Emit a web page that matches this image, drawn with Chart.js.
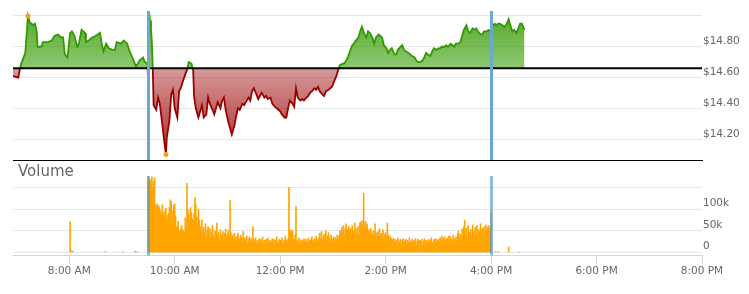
<!DOCTYPE html>
<html>
<head>
<meta charset="utf-8">
<script src="https://cdn.jsdelivr.net/npm/chart.js@4.4.1/dist/chart.umd.min.js"></script>
<style>
  html, body { margin: 0; padding: 0; background: #fff; }
  canvas { display: block; }
</style>
</head>
<body>
<canvas id="price" width="749" height="162"></canvas>
<canvas id="volume" width="749" height="132"></canvas>
<script>
"use strict";

// ---- data ----
const prevClose = 14.66;
const sessionOpen = "9:30";
const sessionClose = "16:00";
const axisStart = "6:56";
const axisEnd = "20:00";

const xTickTimes = ["8:00", "10:00", "12:00", "14:00", "16:00", "18:00", "20:00"];
const xTickLabels = ["8:00 AM", "10:00 AM", "12:00 PM", "2:00 PM", "4:00 PM", "6:00 PM", "8:00 PM"];
const priceTicks = [14.2, 14.4, 14.6, 14.8, 15.0];
const priceTickLabels = ["$14.20", "$14.40", "$14.60", "$14.80", ""];
const volumeTicks = [0, 50, 100, 150];
const volumeTickLabels = ["0", "50k", "100k", ""];

const priceTimes = [
  "6:56", "7:02", "7:04", "7:06", "7:10", "7:11", "7:13", "7:15", "7:19", "7:21",
  "7:23", "7:24", "7:28", "7:30", "7:36", "7:40", "7:43", "7:47", "7:51", "7:53",
  "7:55", "7:58", "8:01", "8:03", "8:06", "8:09", "8:11", "8:14", "8:18", "8:19",
  "8:22", "8:26", "8:30", "8:35", "8:37", "8:39", "8:42", "8:45", "8:49", "8:52",
  "8:54", "8:59", "9:02", "9:06", "9:08", "9:11", "9:14", "9:16", "9:18", "9:20",
  "9:24", "9:26", "9:29", "9:30", "9:31", "9:32", "9:33", "9:34", "9:35", "9:36",
  "9:39", "9:41", "9:43", "9:46", "9:48", "9:50", "9:51", "9:54", "9:56", "9:58",
  "10:00", "10:03", "10:05", "10:07", "10:09", "10:12", "10:14", "10:16", "10:19", "10:21",
  "10:22", "10:24", "10:27", "10:29", "10:31", "10:33", "10:36", "10:38", "10:40", "10:43",
  "10:45", "10:47", "10:49", "10:52", "10:54", "10:56", "10:58", "11:01", "11:03", "11:05",
  "11:08", "11:10", "11:12", "11:14", "11:17", "11:19", "11:21", "11:24", "11:26", "11:28",
  "11:30", "11:33", "11:35", "11:37", "11:39", "11:42", "11:44", "11:46", "11:49", "11:51",
  "11:54", "11:58", "12:00", "12:02", "12:05", "12:07", "12:09", "12:11", "12:14", "12:16",
  "12:18", "12:20", "12:23", "12:25", "12:27", "12:30", "12:32", "12:34", "12:36", "12:39",
  "12:41", "12:43", "12:45", "12:48", "12:50", "12:52", "12:55", "12:57", "12:59", "13:01",
  "13:04", "13:06", "13:08", "13:11", "13:13", "13:15", "13:17", "13:20", "13:22", "13:24",
  "13:26", "13:29", "13:31", "13:33", "13:36", "13:38", "13:40", "13:42", "13:45", "13:47",
  "13:49", "13:52", "13:54", "13:56", "13:58", "14:01", "14:03", "14:05", "14:07", "14:10",
  "14:12", "14:14", "14:17", "14:19", "14:21", "14:23", "14:26", "14:28", "14:30", "14:33",
  "14:35", "14:37", "14:39", "14:42", "14:44", "14:46", "14:48", "14:51", "14:53", "14:55",
  "14:58", "15:00", "15:02", "15:04", "15:07", "15:09", "15:11", "15:14", "15:16", "15:18",
  "15:20", "15:23", "15:25", "15:27", "15:29", "15:32", "15:34", "15:36", "15:39", "15:41",
  "15:43", "15:45", "15:48", "15:50", "15:52", "15:55", "15:57", "15:59", "16:01", "16:04",
  "16:06", "16:08", "16:10", "16:13", "16:15", "16:17", "16:20", "16:22", "16:24", "16:26",
  "16:29", "16:31", "16:33", "16:35", "16:38"
];
const priceValues = [
  14.61, 14.60, 14.66, 14.70, 14.76, 14.84, 15.00, 14.96, 14.94, 14.95,
  14.90, 14.80, 14.80, 14.83, 14.83, 14.84, 14.87, 14.88, 14.86, 14.86,
  14.75, 14.73, 14.89, 14.90, 14.87, 14.80, 14.82, 14.91, 14.89, 14.83,
  14.84, 14.86, 14.87, 14.89, 14.82, 14.77, 14.82, 14.79, 14.78, 14.78,
  14.83, 14.82, 14.84, 14.82, 14.78, 14.74, 14.70, 14.67, 14.69, 14.71,
  14.73, 14.70, 14.69, 14.52, 14.91, 14.97, 14.92, 14.83, 14.67, 14.42,
  14.39, 14.47, 14.43, 14.29, 14.19, 14.10, 14.21, 14.32, 14.49, 14.52,
  14.40, 14.34, 14.51, 14.53, 14.57, 14.62, 14.65, 14.70, 14.69, 14.65,
  14.48, 14.40, 14.34, 14.38, 14.42, 14.34, 14.36, 14.47, 14.43, 14.39,
  14.36, 14.40, 14.44, 14.40, 14.45, 14.47, 14.39, 14.31, 14.27, 14.23,
  14.29, 14.35, 14.40, 14.39, 14.43, 14.42, 14.44, 14.47, 14.45, 14.51,
  14.53, 14.49, 14.46, 14.48, 14.50, 14.47, 14.48, 14.46, 14.47, 14.43,
  14.41, 14.39, 14.38, 14.36, 14.34, 14.34, 14.40, 14.45, 14.43, 14.41,
  14.53, 14.47, 14.45, 14.46, 14.45, 14.47, 14.48, 14.50, 14.51, 14.53,
  14.52, 14.54, 14.51, 14.49, 14.48, 14.51, 14.52, 14.53, 14.54, 14.57,
  14.61, 14.65, 14.68, 14.69, 14.69, 14.71, 14.73, 14.78, 14.81, 14.82,
  14.84, 14.86, 14.90, 14.93, 14.88, 14.86, 14.90, 14.89, 14.86, 14.82,
  14.86, 14.88, 14.87, 14.86, 14.81, 14.79, 14.76, 14.78, 14.79, 14.75,
  14.75, 14.78, 14.80, 14.81, 14.78, 14.77, 14.76, 14.75, 14.74, 14.73,
  14.71, 14.70, 14.70, 14.71, 14.73, 14.76, 14.75, 14.74, 14.77, 14.79,
  14.78, 14.79, 14.79, 14.80, 14.80, 14.81, 14.80, 14.82, 14.81, 14.80,
  14.82, 14.82, 14.83, 14.87, 14.91, 14.94, 14.90, 14.89, 14.92, 14.91,
  14.92, 14.90, 14.88, 14.88, 14.90, 14.90, 14.91, 14.90, 14.93, 14.95,
  14.94, 14.95, 14.95, 14.94, 14.93, 14.94, 14.98, 14.94, 14.90, 14.91,
  14.89, 14.92, 14.95, 14.95, 14.91
];

// volume in thousands, one bar per minute from the open (9:30) to the close (16:00)
const sessionVolume = [
  178, 170, 158, 168, 175, 150, 165, 172, 110, 104,
  112, 105, 108, 100, 95, 88, 110, 92, 82, 96,
  102, 85, 78, 90, 104, 122, 118, 96, 70, 110,
  112, 85, 60, 58, 72, 50, 46, 55, 62, 48,
  52, 45, 80, 58, 160, 98, 88, 75, 104, 92,
  78, 70, 90, 127, 110, 82, 68, 100, 75, 60,
  48, 75, 40, 58, 45, 66, 38, 52, 60, 42,
  55, 35, 48, 62, 40, 33, 50, 45, 68, 38,
  46, 30, 52, 40, 35, 48, 28, 44, 54, 36,
  42, 50, 38, 120, 46, 34, 40, 30, 44, 36,
  28, 38, 45, 32, 26, 40, 35, 22, 48, 30,
  34, 26, 38, 20, 30, 36, 24, 32, 28, 59,
  30, 25, 34, 22, 28, 20, 32, 26, 30, 24,
  36, 22, 28, 18, 30, 26, 34, 20, 28, 24,
  26, 32, 22, 30, 18, 28, 36, 24, 20, 30,
  28, 22, 34, 26, 20, 30, 38, 24, 28, 32,
  151, 48, 52, 45, 50, 30, 26, 40, 106, 28,
  22, 34, 18, 30, 26, 20, 28, 32, 24, 30,
  26, 22, 34, 28, 20, 30, 36, 24, 28, 32,
  26, 38, 30, 22, 34, 44, 30, 48, 26, 36,
  42, 30, 50, 28, 38, 46, 34, 26, 40, 32,
  28, 36, 24, 34, 30, 40, 26, 38, 50, 44,
  58, 48, 62, 40, 55, 66, 45, 52, 60, 48,
  56, 42, 62, 50, 46, 68, 54, 44, 58, 40,
  62, 70, 58, 73, 64, 137, 60, 72, 55, 66,
  48, 52, 40, 56, 44, 38, 50, 42, 66, 46,
  36, 48, 40, 55, 34, 44, 38, 52, 30, 42,
  46, 36, 68, 40, 30, 38, 26, 34, 28, 32,
  24, 30, 22, 28, 34, 20, 26, 30, 18, 28,
  32, 22, 26, 30, 20, 28, 24, 34, 22, 26,
  30, 20, 28, 24, 32, 18, 26, 30, 22, 28,
  24, 30, 20, 26, 32, 22, 28, 18, 26, 30,
  22, 28, 34, 24, 20, 30, 26, 32, 22, 28,
  30, 24, 34, 28, 38, 26, 32, 36, 24, 30,
  34, 28, 38, 24, 36, 30, 26, 40, 32, 28,
  36, 30, 44, 50, 34, 42, 28, 54, 38, 60,
  75, 40, 56, 34, 62, 46, 30, 52, 42, 64,
  48, 38, 58, 44, 62, 36, 52, 46, 66, 40,
  56, 48, 60, 42, 64, 50, 58, 62, 54, 60,
  92
];

// pre-market and after-hours prints (thousands)
const extendedTimes = ["8:01", "8:02", "8:04", "8:41", "9:01", "9:15", "9:17", "16:05", "16:08", "16:20", "16:32"];
const extendedVolume = [71, 5, 3, 2, 2, 3, 2, 2, 2, 12, 1.5];

// ---- helpers ----
function toMin(t) {
  const p = t.split(":");
  return Number(p[0]) * 60 + Number(p[1]);
}

const xMin = toMin(axisStart);
const xMax = toMin(axisEnd);
const marketLines = [toMin(sessionOpen), toMin(sessionClose)];
const labelFont = { family: "'DejaVu Sans'", size: 10.5 };

const priceData = priceTimes.map((t, i) => ({ x: toMin(t), y: priceValues[i] }));
const hiIdx = priceValues.indexOf(Math.max(...priceValues));
const loIdx = priceValues.indexOf(Math.min(...priceValues));
const hiLo = [priceData[hiIdx], priceData[loIdx]];

const volumeData = extendedTimes
  .map((t, i) => ({ x: toMin(t), y: extendedVolume[i] }))
  .concat(sessionVolume.map((v, i) => ({ x: toMin(sessionOpen) + i, y: v })))
  .sort((a, b) => a.x - b.x);

const lineColors = ["#339900", "#339900", "#990000", "#990000"];
const fillColors = ["rgba(51,153,0,0.85)", "rgba(51,153,0,0.55)", "rgba(153,0,0,0.4)", "rgba(153,0,0,0.85)"];

// green above the previous close, red below it
function splitGradient(chart, colors) {
  const { ctx, chartArea, scales } = chart;
  if (!chartArea || !scales.y) return colors[0];
  const yBase = scales.y.getPixelForValue(prevClose);
  let f = (yBase - chartArea.top) / (chartArea.bottom - chartArea.top);
  f = Math.min(Math.max(f, 0), 1);
  const g = ctx.createLinearGradient(0, chartArea.top, 0, chartArea.bottom);
  g.addColorStop(0, colors[0]);
  g.addColorStop(f, colors[1]);
  g.addColorStop(f, colors[2]);
  g.addColorStop(1, colors[3]);
  return g;
}

const plotLines = {
  id: "plotLines",
  afterDatasetsDraw(chart, args, opts) {
    const { ctx, chartArea, scales } = chart;
    ctx.save();
    ctx.strokeStyle = opts.color;
    ctx.lineWidth = 3;
    marketLines.forEach((t) => {
      const x = Math.round(scales.x.getPixelForValue(t)) + 0.5;
      ctx.beginPath();
      ctx.moveTo(x, chartArea.top);
      ctx.lineTo(x, chartArea.bottom);
      ctx.stroke();
    });
    ctx.restore();
  },
};

const paneTitle = {
  id: "paneTitle",
  afterDraw(chart, args, opts) {
    if (!opts.text) return;
    const ctx = chart.ctx;
    ctx.save();
    ctx.font = "15px 'DejaVu Sans'";
    ctx.fillStyle = "#666";
    ctx.textBaseline = "alphabetic";
    ctx.fillText(opts.text, chart.chartArea.left + 5, chart.chartArea.top);
    ctx.restore();
  },
};

function noPad(axis) {
  axis.paddingTop = 0;
  axis.paddingBottom = 0;
  axis.paddingLeft = 0;
  axis.paddingRight = 0;
}

// ---- price pane ----
let priceChart = new Chart(document.getElementById("price"), {
  type: "line",
  data: {
    datasets: [
      {
        label: "Previous close",
        data: [{ x: xMin, y: prevClose }, { x: xMax, y: prevClose }],
        borderColor: "#000",
        borderWidth: 2,
        pointRadius: 0,
        fill: false,
        order: 0,
      },
      {
        label: "High / low",
        type: "scatter",
        data: hiLo,
        pointRadius: 2.5,
        backgroundColor: "#f7a11a",
        borderWidth: 0,
        order: -1,
      },
      {
        label: "Price",
        data: priceData,
        borderWidth: 1.8,
        pointRadius: 0,
        tension: 0,
        fill: { target: { value: prevClose } },
        borderColor: (c) => splitGradient(c.chart, lineColors),
        backgroundColor: (c) => splitGradient(c.chart, fillColors),
        order: 1,
      },
    ],
  },
  options: {
    responsive: false,
    animation: false,
    devicePixelRatio: 1,
    layout: { autoPadding: false, padding: { left: 13, top: 11, right: 0, bottom: 2 } },
    plugins: {
      legend: { display: false },
      tooltip: { enabled: false },
      plotLines: { color: "#6aaad2" },
    },
    scales: {
      x: {
        type: "linear",
        min: xMin,
        max: xMax,
        grid: { display: false, drawTicks: false },
        ticks: { display: false },
        border: { display: true, color: "#000", width: 1 },
        afterFit: (a) => { a.height = 0; noPad(a); },
      },
      y: {
        position: "right",
        min: 14.0635,
        max: 15.0325,
        afterBuildTicks: (a) => { a.ticks = priceTicks.map((v) => ({ value: v })); },
        afterFit: (a) => { a.width = 47; noPad(a); },
        grid: { color: "#e6e6e6", drawTicks: false },
        border: { display: false },
        ticks: {
          padding: 1,
          labelOffset: -5,
          color: "#666",
          font: labelFont,
          autoSkip: false,
          callback: (v) => priceTickLabels[priceTicks.indexOf(v)],
        },
      },
    },
  },
  plugins: [plotLines],
});

// ---- volume pane ----
let volumeChart = new Chart(document.getElementById("volume"), {
  type: "bar",
  data: {
    datasets: [
      {
        label: "Volume",
        data: volumeData,
        backgroundColor: "#ffa500",
        barThickness: 1,
        borderWidth: 0,
      },
    ],
  },
  options: {
    responsive: false,
    animation: false,
    devicePixelRatio: 1,
    layout: { autoPadding: false, padding: { left: 13, top: 14, right: 0, bottom: 14 } },
    plugins: {
      legend: { display: false },
      tooltip: { enabled: false },
      plotLines: { color: "rgba(80,150,205,0.65)" },
      paneTitle: { text: "Volume" },
    },
    scales: {
      x: {
        type: "linear",
        offset: false,
        min: xMin,
        max: xMax,
        afterBuildTicks: (a) => { a.ticks = xTickTimes.map((t) => ({ value: toMin(t) })); },
        afterFit: (a) => noPad(a),
        grid: { offset: false, drawOnChartArea: false, drawTicks: true, tickLength: 8, color: "#ccd6eb" },
        border: { display: true, color: "#ccd6eb", width: 1 },
        ticks: {
          padding: 2,
          color: "#666",
          font: labelFont,
          autoSkip: false,
          maxRotation: 0,
          callback: (v) => xTickLabels[xTickTimes.map(toMin).indexOf(v)],
        },
      },
      y: {
        position: "right",
        min: -7,
        max: 177,
        afterBuildTicks: (a) => { a.ticks = volumeTicks.map((v) => ({ value: v })); },
        afterFit: (a) => { a.width = 47; noPad(a); },
        grid: { color: "#e6e6e6", drawTicks: false },
        border: { display: false },
        ticks: {
          padding: 1,
          labelOffset: -6,
          color: "#666",
          font: labelFont,
          autoSkip: false,
          callback: (v) => volumeTickLabels[volumeTicks.indexOf(v)],
        },
      },
    },
  },
  plugins: [plotLines, paneTitle],
});
</script>
</body>
</html>
